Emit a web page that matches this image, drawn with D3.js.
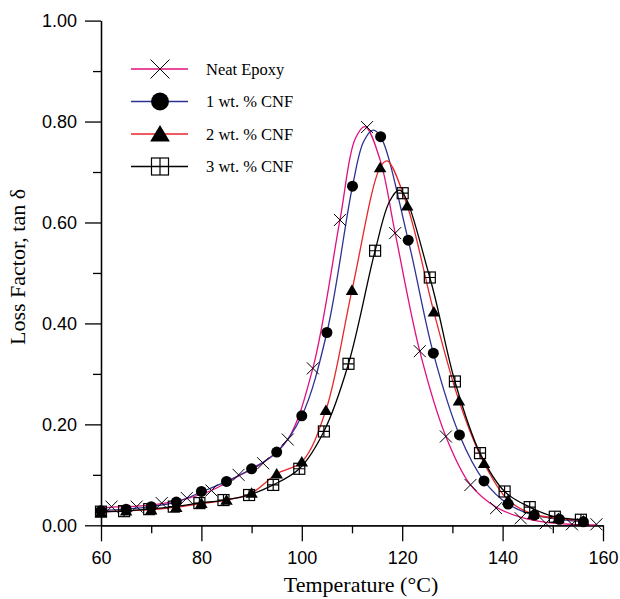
<!DOCTYPE html>
<html>
<head>
<meta charset="utf-8">
<script src="https://cdn.jsdelivr.net/npm/d3@7"></script>
<style>
body { margin: 0; background: #fff; }
.tick text { font-family: "Liberation Sans", Arial, sans-serif; font-size: 18px; fill: #000; }
.title, .legend text { font-family: "Liberation Serif", "Times New Roman", serif; fill: #000; }
</style>
</head>
<body>
<div id="chart"></div>
<script>
// series names
const seriesNames = ["Neat Epoxy", "1 wt. % CNF", "2 wt. % CNF", "3 wt. % CNF"];

// fitted curves [temperature, tan delta]
const neatLine = [[60,0.033],[62.1,0.036],[67.1,0.038],[72.1,0.043],[77.1,0.053],[82,0.069],[87.4,0.098],
  [92.3,0.124],[97.2,0.170],[102.2,0.311],[107.6,0.605],[110.6,0.765],[112.6,0.790],[115.6,0.724],
  [118.6,0.579],[123.5,0.345],[128.7,0.176],[133.6,0.080],[138.7,0.036],[143.6,0.016],[148.6,0.006],
  [153.8,0.002],[158.7,0.001]];
const cnf1Line = [[60,0.029],[65,0.032],[70,0.037],[75,0.046],[80,0.066],[85,0.087],[90,0.112],[95,0.145],
  [100,0.217],[105,0.382],[110.1,0.672],[112.3,0.760],[114.2,0.783],[115.7,0.770],[121.2,0.565],
  [126.2,0.341],[131.4,0.179],[136.3,0.088],[141.1,0.042],[146.3,0.020],[151.3,0.012],[156.1,0.007]];
const cnf2Line = [[60,0.026],[65,0.029],[70,0.031],[75,0.036],[80,0.043],[85,0.050],[90,0.064],[95,0.102],
  [100,0.126],[104.8,0.228],[110,0.466],[115.6,0.709],[117,0.722],[121,0.633],[126.3,0.423],
  [131.3,0.247],[136.3,0.123],[141.1,0.050],[146.1,0.022],[151.1,0.014],[156.1,0.009]];
const cnf3Line = [[60,0.027],[64.6,0.028],[69.6,0.032],[74.5,0.037],[79.6,0.044],[84.4,0.050],[89.5,0.060],
  [94.3,0.080],[99.5,0.112],[104.4,0.186],[109.3,0.320],[114.6,0.544],[117.5,0.642],[119.5,0.664],
  [125.5,0.491],[130.5,0.285],[135.5,0.143],[140.4,0.067],[145.4,0.036],[150.4,0.017],[155.6,0.011]];

// symbol positions [temperature, tan delta]
const neatMarks = [[62.1,0.037],[67.1,0.037],[72.1,0.044],[77.1,0.054],[82,0.069],[87.4,0.100],[92.3,0.123],
  [97.2,0.170],[102.2,0.311],[107.6,0.605],[113,0.789],[118.6,0.579],[123.5,0.345],[128.7,0.176],
  [133.6,0.080],[138.7,0.034],[143.6,0.014],[148.6,0.004],[153.8,0.002],[158.7,0.002]];
const cnf1Marks = [[60,0.029],[65,0.032],[70,0.037],[75,0.046],[80,0.067],[85,0.087],[90,0.112],[95,0.145],
  [100,0.217],[105,0.382],[110.1,0.672],[115.7,0.770],[121.2,0.565],[126.2,0.341],[131.4,0.179],
  [136.3,0.088],[141.1,0.042],[146.3,0.020],[151.3,0.012],[156.1,0.007]];
const cnf2Marks = [[60,0.026],[65,0.029],[70,0.031],[75,0.036],[80,0.044],[85,0.050],[90,0.064],[95,0.102],
  [100,0.126],[104.8,0.228],[110,0.466],[115.6,0.709],[121,0.633],[126.3,0.423],[131.3,0.247],
  [136.3,0.123],[141.1,0.050],[146.1,0.022],[151.1,0.014],[156.1,0.009]];
const cnf3Marks = [[60,0.027],[64.6,0.028],[69.6,0.032],[74.5,0.037],[79.6,0.044],[84.4,0.050],[89.5,0.060],
  [94.3,0.080],[99.5,0.112],[104.4,0.186],[109.3,0.320],[114.6,0.544],[120.1,0.658],[125.5,0.491],
  [130.5,0.285],[135.5,0.143],[140.4,0.067],[145.4,0.036],[150.4,0.017],[155.6,0.011]];

// ticks
const xMajor = [60, 80, 100, 120, 140, 160];
const xMinor = [70, 90, 110, 130, 150];
const yMajor = [0, 0.2, 0.4, 0.6, 0.8, 1.0];
const yMinor = [0.1, 0.3, 0.5, 0.7, 0.9];

const width = 620, height = 599;
const x = d3.scaleLinear().domain([60, 160]).range([101, 603]);
const y = d3.scaleLinear().domain([0, 1]).range([525.3, 20.6]);

const svg = d3.select("#chart").append("svg")
  .attr("width", width).attr("height", height);

// axes
const gx = svg.append("g").attr("transform", `translate(0,${y(0)})`);
gx.call(d3.axisBottom(x).tickValues(xMajor).tickSize(16).tickPadding(10).tickSizeOuter(0));
svg.append("g").attr("transform", `translate(0,${y(0)})`)
  .call(d3.axisBottom(x).tickValues(xMinor).tickSize(8).tickFormat("").tickSizeOuter(0));

const gy = svg.append("g").attr("transform", `translate(${x(60)},0)`);
gy.call(d3.axisLeft(y).tickValues(yMajor).tickSize(16).tickPadding(8).tickSizeOuter(0).tickFormat(d3.format(".2f")));
svg.append("g").attr("transform", `translate(${x(60)},0)`)
  .call(d3.axisLeft(y).tickValues(yMinor).tickSize(8).tickFormat("").tickSizeOuter(0));

svg.selectAll(".domain, .tick line").attr("stroke", "#000").attr("stroke-width", 1.3);

// titles
svg.append("text").attr("class", "title")
  .attr("x", 361).attr("y", 592).attr("text-anchor", "middle")
  .style("font-size", "22px").text("Temperature (°C)");
svg.append("text").attr("class", "title")
  .attr("transform", "translate(25,267) rotate(-90)").attr("text-anchor", "middle")
  .style("font-size", "22px").text("Loss Factor, tan δ");

// styles
const colors = ["#e0107e", "#2e3192", "#e8262a", "#000000"];
const shapes = ["x", "circle", "triangle", "square"];
const lines = [neatLine, cnf1Line, cnf2Line, cnf3Line];
const marks = [neatMarks, cnf1Marks, cnf2Marks, cnf3Marks];

function drawMarker(g, shape, s) {
  if (shape === "x") {
    g.append("path").attr("d", `M${-s/2},${-s/2}L${s/2},${s/2}M${-s/2},${s/2}L${s/2},${-s/2}`)
      .attr("stroke", "#000").attr("stroke-width", 1).attr("fill", "none");
  } else if (shape === "circle") {
    g.append("circle").attr("r", s / 2).attr("fill", "#000");
  } else if (shape === "triangle") {
    g.append("path").attr("d", `M0,${-s*0.48}L${s*0.52},${s*0.4}L${-s*0.52},${s*0.4}Z`).attr("fill", "#000");
  } else {
    g.append("rect").attr("x", -s/2).attr("y", -s/2).attr("width", s).attr("height", s)
      .attr("fill", "none").attr("stroke", "#000").attr("stroke-width", 1.2);
    g.append("path").attr("d", `M0,${-s/2}V${s/2}M${-s/2},0H${s/2}`)
      .attr("stroke", "#000").attr("stroke-width", 1.2);
  }
}

const line = d3.line().x(d => x(d[0])).y(d => y(d[1])).curve(d3.curveCatmullRom.alpha(0.5));

// curves
lines.forEach((data, i) => {
  svg.append("path").datum(data).attr("d", line)
    .attr("fill", "none").attr("stroke", colors[i]).attr("stroke-width", 1.3);
});

// symbols (squares first, crosses last)
const markSizes = [12, 11, 12, 11];
[3, 2, 1, 0].forEach(i => {
  svg.append("g").selectAll("g").data(marks[i]).enter().append("g")
    .attr("transform", d => `translate(${x(d[0])},${y(d[1])})`)
    .each(function () { drawMarker(d3.select(this), shapes[i], markSizes[i]); });
});

// legend
const legendSizes = [19, 18, 19, 17];
const legend = svg.append("g").attr("class", "legend");
seriesNames.forEach((name, i) => {
  const row = legend.append("g").attr("transform", `translate(160,${69 + i * 32.5})`);
  row.append("line").attr("x1", -29).attr("x2", 28).attr("stroke", colors[i]).attr("stroke-width", 1.3);
  drawMarker(row, shapes[i], legendSizes[i]);
  row.append("text").attr("x", 46).attr("y", 5.5).style("font-size", "16.5px").text(name);
});
</script>
</body>
</html>
